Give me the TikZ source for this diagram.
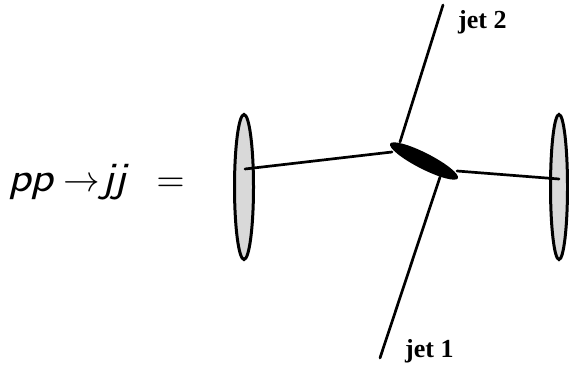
\documentclass[tikz,border=0pt]{standalone}
\usepackage{fontspec}
\newfontfamily\jetfont{Liberation Serif}
\usetikzlibrary{shapes.geometric}
\newcommand{\bigmath}[1]{\scalebox{3.65}{\fontsize{10}{12}\selectfont$#1$}}
\newcommand{\widesf}[1]{\scalebox{1.12}[1]{\textsf{\textit{#1}}}}
\begin{document}
\begin{tikzpicture}[x=1pt,y=1pt,
  line/.style={line width=2.7pt, line cap=round},
  beam/.style={ellipse, draw, line width=3pt, fill=black!15, inner sep=0pt},
  jetlabel/.style={font=\jetfont\bfseries\fontsize{26}{28}\selectfont, inner sep=0pt, anchor=base west}]
\useasboundingbox (0,0) rectangle (569,364);
\node[anchor=base west, inner sep=0pt, font=\fontsize{42}{44}\selectfont] (eq) at (8,172)
  {\widesf{pp}\hspace{8pt}\bigmath{\rightarrow}\hspace{3pt}\widesf{jj}\hspace{27pt}\bigmath{=}};
\node[beam, minimum width=19pt, minimum height=145pt] (L) at (244,177) {};
\node[beam, minimum width=17pt, minimum height=145pt] (R) at (559,177) {};
\fill[rotate around={-27:(424,203)}] (424,203) ellipse [x radius=38, y radius=8];
\coordinate (B) at (424,203);
\coordinate (Lp) at (245,195);
\coordinate (Rp) at (559,185);
\coordinate (Bl) at (392,212);
\coordinate (Br) at (457,193);
\coordinate (Bt) at (400,222);
\coordinate (Bb) at (440,187);
\coordinate (J2) at (443,359);
\coordinate (J1) at (380,6);
\draw[line] (Lp) -- (Bl);
\draw[line] (Br) -- (Rp);
\draw[line] (Bt) -- (J2);
\draw[line] (Bb) -- (J1);
\node[jetlabel] (j2) at (458,335) {jet 2};
\node[jetlabel] (j1) at (405,7) {jet 1};
\end{tikzpicture}
\end{document}
